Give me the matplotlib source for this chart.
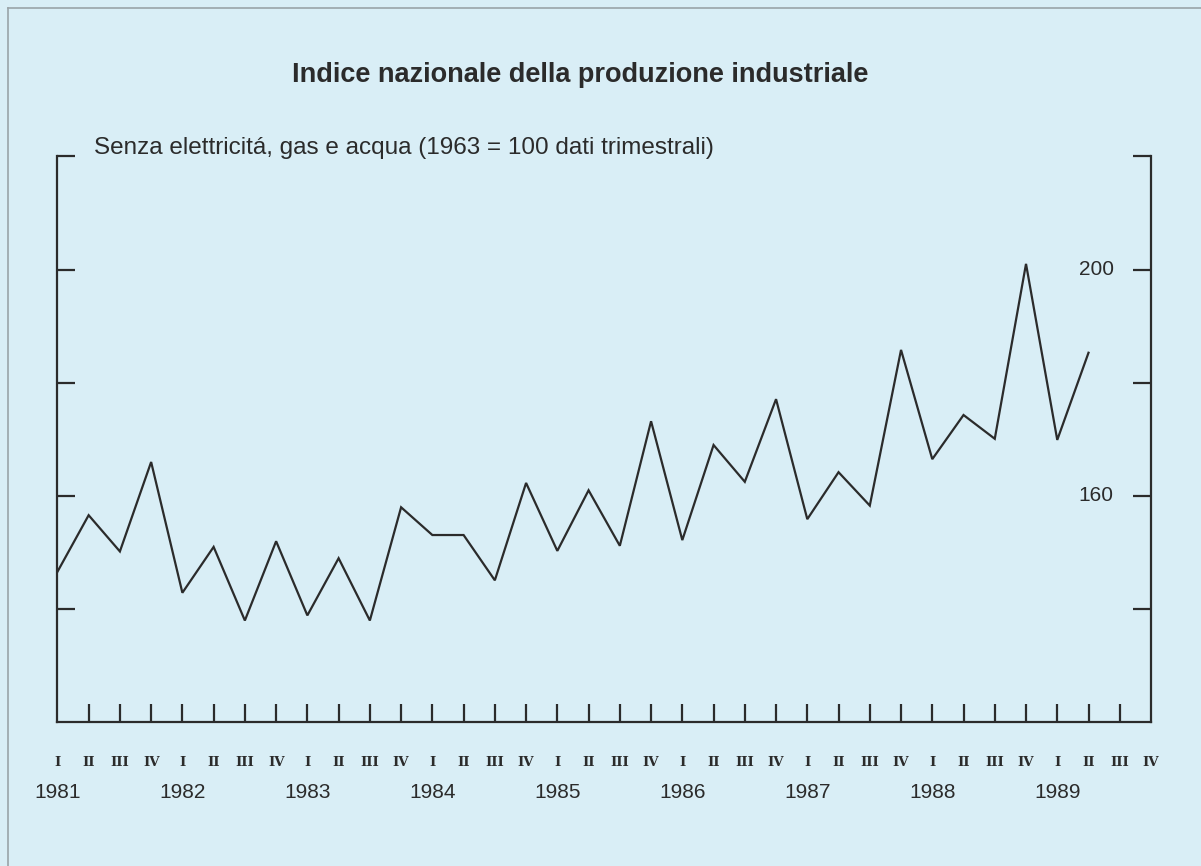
import matplotlib
matplotlib.use('Agg')
import matplotlib.pyplot as plt
from matplotlib.lines import Line2D

# quarterly index, 1981 I .. 1989 II
values = [146.6, 156.6, 150.2, 166.0, 142.9, 151.0, 138.0, 152.0,
          138.9, 149.0, 138.0, 158.0, 153.1, 153.1, 145.1, 162.3,
          150.3, 161.0, 151.2, 173.2, 152.2, 169.0, 162.5, 177.1,
          155.9, 164.2, 158.3, 185.8, 166.5, 174.3, 170.1, 201.0,
          169.9, 185.3]
years = ['1981', '1982', '1983', '1984', '1985', '1986', '1987', '1988', '1989']
quarters = ['I', 'II', 'III', 'IV']
y_ticks = [140, 160, 180, 200, 220]
y_labels = {160: '160', 200: '200'}

bg = '#d9eef6'
ink = '#2b2b2b'

fig = plt.figure(figsize=(12.01, 8.66), dpi=100, facecolor=bg)
ax = fig.add_axes([57.4 / 1201, 143.6 / 866, (1151 - 57.4) / 1201, (722.4 - 156.3) / 866])
ax.set_facecolor(bg)

n_q = len(years) * 4
ax.plot(range(len(values)), values, color=ink, lw=1.6, solid_joinstyle='miter')

ax.set_xlim(0, n_q - 1)
ax.set_ylim(120, 220)
ax.spines['top'].set_visible(False)
for s in ['left', 'right', 'bottom']:
    ax.spines[s].set_color(ink)
    ax.spines[s].set_linewidth(1.6)

# y ticks on both sides, pointing inward
ax.set_yticks(y_ticks)
ax.tick_params(axis='y', which='both', direction='in', length=13, width=1.6,
               color=ink, left=True, right=True, labelleft=False, labelright=False)
for v, lab in y_labels.items():
    ax.text(33.8, v, lab, ha='right', va='center', fontsize=15,
            family='Liberation Sans', color=ink)

# bottom quarter ticks pointing up
ax.set_xticks(range(1, n_q - 1))
ax.tick_params(axis='x', direction='in', length=13, width=1.6, color=ink,
               labelbottom=False)

# quarter and year labels
for i in range(n_q):
    ax.text(i, -0.07, quarters[i % 4], transform=ax.get_xaxis_transform(),
            ha='center', va='center', fontsize=9.5, family='DejaVu Serif',
            fontweight='bold', color=ink)
for k, yr in enumerate(years):
    ax.text(k * 4, -0.123, yr, transform=ax.get_xaxis_transform(),
            ha='center', va='center', fontsize=15, family='Liberation Sans',
            color=ink)

fig.text(580 / 1201, 1 - 74.6 / 866, 'Indice nazionale della produzione industriale',
         ha='center', va='center', fontsize=19.5, fontweight='bold',
         family='Liberation Sans', color=ink)
fig.text(94 / 1201, 1 - 148 / 866,
         'Senza elettricitá, gas e acqua (1963 = 100 dati trimestrali)',
         ha='left', va='center', fontsize=17.5, family='Liberation Sans', color=ink)

# outer frame of the page
fig.add_artist(Line2D([8 / 1201, 8 / 1201], [0, 1 - 8 / 866], transform=fig.transFigure,
                      color='#9aa4a8', lw=1.2))
fig.add_artist(Line2D([8 / 1201, 1], [1 - 8 / 866, 1 - 8 / 866], transform=fig.transFigure,
                      color='#9aa4a8', lw=1.2))

fig.savefig('out.png', dpi=100, facecolor=bg)
